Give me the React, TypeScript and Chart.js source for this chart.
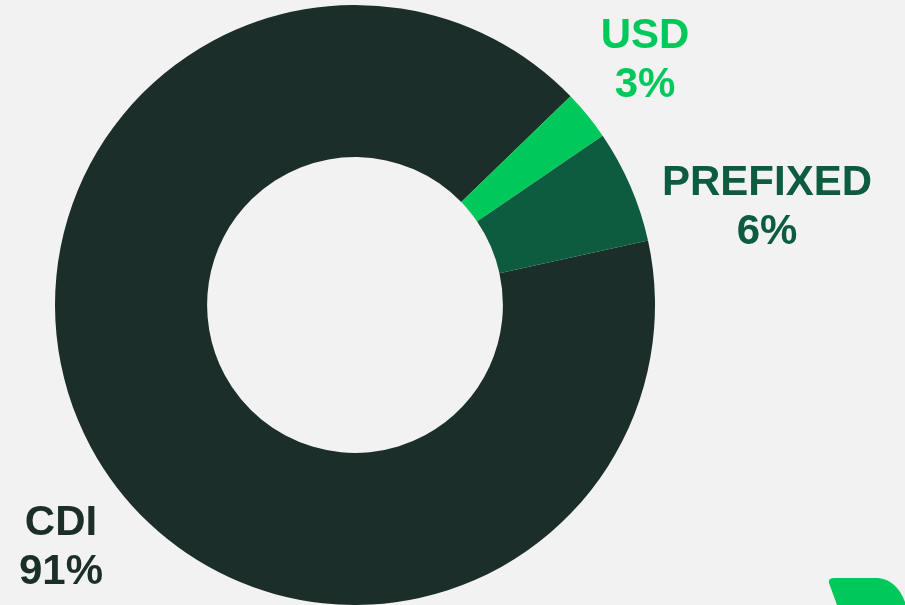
import React, { useEffect, useRef } from "react";
import { Chart, registerables } from "chart.js";

Chart.register(...registerables);

const categories = ["CDI", "USD", "PREFIXED"];
const shares = [91.2, 2.7, 6.1];
const shareLabels = ["91%", "3%", "6%"];
const sliceColors = ["#1b2e2a", "#00c85a", "#0d5c3f"];
const labelColors = ["#1b2e2a", "#00c85a", "#0d5c3f"];
// label anchor (center x, first baseline y) for each category
const labelAnchors = [
  [61, 535],
  [645, 48],
  [767, 195],
];

const labelPlugin = {
  id: "sliceLabels",
  afterDraw(chart: any) {
    const ctx = chart.ctx;
    ctx.save();
    ctx.font = "bold 42px 'Liberation Sans', Arial, sans-serif";
    ctx.textAlign = "center";
    ctx.textBaseline = "alphabetic";
    categories.forEach((c, i) => {
      const [x, y] = labelAnchors[i];
      ctx.fillStyle = labelColors[i];
      ctx.fillText(c, x, y);
      ctx.fillText(shareLabels[i], x, y + 49);
    });
    // decorative corner mark
    ctx.fillStyle = "#00c85a";
    ctx.beginPath();
    ctx.moveTo(834, 578);
    ctx.lineTo(878, 578);
    ctx.quadraticCurveTo(898, 580, 906, 605);
    ctx.lineTo(837, 605);
    ctx.lineTo(829, 583);
    ctx.quadraticCurveTo(828, 578, 834, 578);
    ctx.closePath();
    ctx.fill();
    ctx.restore();
  },
};

const bgPlugin = {
  id: "bg",
  beforeDraw(chart: any) {
    const ctx = chart.ctx;
    ctx.save();
    ctx.fillStyle = "#f2f2f2";
    ctx.fillRect(0, 0, chart.width, chart.height);
    ctx.restore();
  },
};

export default function App() {
  const ref = useRef<HTMLCanvasElement>(null);
  useEffect(() => {
    if (!ref.current) return;
    const chart = new Chart(ref.current, {
      type: "doughnut",
      data: {
        labels: categories,
        datasets: [
          {
            data: shares,
            backgroundColor: sliceColors,
            borderWidth: 0,
          },
        ],
      },
      options: {
        responsive: false,
        animation: false,
        cutout: "49.3%",
        rotation: 77.6,
        layout: { padding: { left: 55, right: 250, top: 5, bottom: 0 } },
        plugins: {
          legend: { display: false },
          tooltip: { enabled: false },
        },
      },
      plugins: [bgPlugin, labelPlugin],
    });
    return () => chart.destroy();
  }, []);
  return (
    <div style={{ position: "fixed", left: 0, top: 0, width: 905, height: 605, background: "#f2f2f2" }}>
      <canvas ref={ref} width={905} height={605} style={{ display: "block" }} />
    </div>
  );
}
